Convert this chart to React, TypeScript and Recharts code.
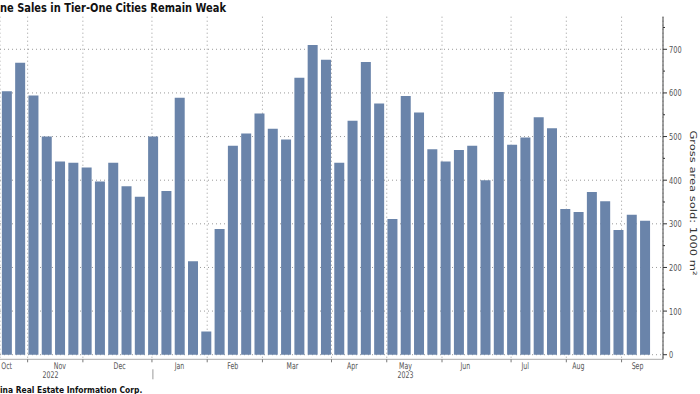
import React from 'react';
import { BarChart, Bar, XAxis, YAxis, CartesianGrid } from 'recharts';

// ── Data (weekly, week ending Friday) ─────────────────────────────────────────

const weeks = [
  '2022-10-21', '2022-10-28',
  '2022-11-04', '2022-11-11', '2022-11-18', '2022-11-25',
  '2022-12-02', '2022-12-09', '2022-12-16', '2022-12-23', '2022-12-30',
  '2023-01-06', '2023-01-13', '2023-01-20', '2023-01-27',
  '2023-02-03', '2023-02-10', '2023-02-17', '2023-02-24',
  '2023-03-03', '2023-03-10', '2023-03-17', '2023-03-24', '2023-03-31',
  '2023-04-07', '2023-04-14', '2023-04-21', '2023-04-28',
  '2023-05-05', '2023-05-12', '2023-05-19', '2023-05-26',
  '2023-06-02', '2023-06-09', '2023-06-16', '2023-06-23', '2023-06-30',
  '2023-07-07', '2023-07-14', '2023-07-21', '2023-07-28',
  '2023-08-04', '2023-08-11', '2023-08-18', '2023-08-25',
  '2023-09-01', '2023-09-08', '2023-09-15', '2023-09-22',
];

// gross area sold, 1000 m²
const areaSold = [
  604, 669,
  594, 500, 443, 440,
  429, 397, 440, 386, 362,
  500, 375, 589, 214,
  53, 288, 479, 507,
  553, 518, 493, 635, 710,
  676, 440, 536, 671,
  576, 311, 593, 555,
  471, 443, 469, 479, 400,
  602, 481, 498, 544,
  519, 334, 327, 373,
  352, 286, 321, 307,
];

const monthLabels = ['Oct', 'Nov', 'Dec', 'Jan', 'Feb', 'Mar', 'Apr', 'May', 'Jun', 'Jul', 'Aug', 'Sep'];
const yearLabels = ['2022', '2023'];
const yearAnchors = [3.3, 30]; // week index the year label sits over
const valueTicks = [0, 50, 100, 150, 200, 250, 300, 350, 400, 450, 500, 550, 600, 650, 700, 750];
const gridValues = [0, 100, 200, 300, 400, 500, 600, 700];

// ── Derived ───────────────────────────────────────────────────────────────────

const data = weeks.map((w, i) => ({ week: w, sold: areaSold[i] }));

// first week of each new month → grid lines + tick marks
const monthStarts = weeks
  .map((w, i) => (i > 0 && w.slice(5, 7) !== weeks[i - 1].slice(5, 7) ? i : -1))
  .filter((i) => i >= 0);

// month labels sit halfway between month starts (Oct and Sep run off the edges)
const edges = [-2, ...monthStarts, 49.9];
const monthPos = monthLabels.map((_, i) => (edges[i] + edges[i + 1]) / 2);
const janStart = monthStarts[2];

const PLOT_W = 663;
const PAD_R = 11.5;
const band = (PLOT_W - PAD_R) / weeks.length;
const X_DOMAIN: [number, number] = [-0.5, weeks.length - 0.5 + PAD_R / band];

const BAR = '#6a84aa';
const FONT = 'DejaVu Sans, Verdana, sans-serif';

// ── Ticks ─────────────────────────────────────────────────────────────────────

function TickText({ x, y, size = 9.6, children }: { x: number; y: number; size?: number; children: React.ReactNode }) {
  return (
    <text
      transform={`translate(${x},${y}) scale(0.68,1)`}
      textAnchor="middle"
      dominantBaseline="central"
      fontSize={size}
      fontFamily={FONT}
      fill="#555"
    >
      {children}
    </text>
  );
}

// month row: drawn off the weekly category axis, shifted by a fraction of a band
function MonthTick(props: any) {
  const { x, y, payload } = props;
  const i = weeks.indexOf(payload.value);
  const m = monthPos.findIndex((p) => Math.floor(p) === i);
  if (m < 0) return <g />;
  return (
    <TickText x={x + (monthPos[m] - i) * band} y={y + 2.4} size={9.2}>
      {monthLabels[m]}
    </TickText>
  );
}

function YearTick(props: any) {
  const { x, y, payload } = props;
  const i = weeks.indexOf(payload.value);
  if (i === janStart) {
    return <line x1={x} x2={x} y1={y - 2} y2={y + 8} stroke="#999" />;
  }
  const k = yearAnchors.findIndex((a) => Math.floor(a) === i);
  if (k < 0) return <g />;
  return (
    <TickText x={x + (yearAnchors[k] - i) * band} y={y + 4.2} size={9.2}>
      {yearLabels[k]}
    </TickText>
  );
}

function ValueTick(props: any) {
  const { x, y, payload } = props;
  const v = payload.value as number;
  const major = v % 100 === 0;
  const ax = x - 6;
  return (
    <g>
      <line x1={ax} x2={ax + (major ? 4 : 2)} y1={y} y2={y} stroke="#333" />
      {major && (
        <text
          transform={`translate(${ax + 6},${y}) scale(0.69,1)`}
          dominantBaseline="central"
          fontSize={9.6}
          fontFamily={FONT}
          fill="#555"
        >
          {v}
        </text>
      )}
    </g>
  );
}

// ── Chart ─────────────────────────────────────────────────────────────────────

export default function App() {
  return (
    <div style={{ position: 'absolute', left: 0, top: 0, width: 700, height: 394, background: '#fff', overflow: 'hidden' }}>
      <BarChart
        width={700}
        height={394}
        data={data}
        margin={{ top: 16.7, right: 0, bottom: 10.7, left: 0 }}
        barCategoryGap="14%"
      >
        <CartesianGrid
          xAxisId="g"
          horizontalValues={gridValues}
          stroke="#999"
          strokeDasharray="1 3"
        />
        <XAxis
          xAxisId="g"
          type="number"
          domain={X_DOMAIN}
          allowDataOverflow
          ticks={monthStarts}
          interval={0}
          height={4}
          tickSize={3}
          tickFormatter={() => ''}
          axisLine={{ stroke: '#aaa' }}
          tickLine={{ stroke: '#777' }}
        />
        <XAxis
          xAxisId="m"
          dataKey="week"
          padding={{ left: 0, right: PAD_R }}
          interval={0}
          height={8}
          tickSize={0}
          tickMargin={0}
          axisLine={false}
          tickLine={false}
          tick={MonthTick}
        />
        <XAxis
          xAxisId="yr"
          dataKey="week"
          padding={{ left: 0, right: PAD_R }}
          interval={0}
          height={12}
          tickSize={0}
          tickMargin={0}
          axisLine={false}
          tickLine={false}
          tick={YearTick}
        />
        <XAxis xAxisId="cat" dataKey="week" hide height={0} padding={{ left: 0, right: PAD_R }} />
        <YAxis
          orientation="right"
          width={37}
          domain={[-10.5, 774.7]}
          allowDataOverflow
          ticks={valueTicks}
          interval={0}
          tickSize={4}
          tickMargin={2}
          tickLine={false}
          axisLine={{ stroke: '#444' }}
          tick={ValueTick}
        />
        <Bar xAxisId="cat" dataKey="sold" fill={BAR} isAnimationActive={false} />
      </BarChart>

      {/* title (cropped on the left in the source image) */}
      <div
        style={{
          position: 'absolute', left: 0, top: 0, whiteSpace: 'nowrap',
          fontFamily: FONT, fontWeight: 'bold', fontSize: 13, lineHeight: '16px', color: '#111',
          transform: 'scaleX(0.76)', transformOrigin: '0 0',
        }}
      >
        ne Sales in Tier-One Cities Remain Weak
      </div>

      {/* right-hand axis title */}
      <div style={{ position: 'absolute', left: 693, top: 203, width: 0, height: 0 }}>
        <div
          style={{
            position: 'absolute', left: 0, top: 0, whiteSpace: 'nowrap',
            fontFamily: FONT, fontSize: 11.5, lineHeight: '13px', color: '#333',
            transform: 'scaleX(0.76) rotate(90deg) translate(-50%, -50%)', transformOrigin: '0 0',
          }}
        >
          Gross area sold: 1000 m²
        </div>
      </div>

      {/* source */}
      <div
        style={{
          position: 'absolute', left: 0, top: 384.5, whiteSpace: 'nowrap',
          fontFamily: FONT, fontWeight: 'bold', fontSize: 8.7, lineHeight: '10px', color: '#111',
          transform: 'scaleX(0.87)', transformOrigin: '0 0',
        }}
      >
        ina Real Estate Information Corp.
      </div>
    </div>
  );
}
